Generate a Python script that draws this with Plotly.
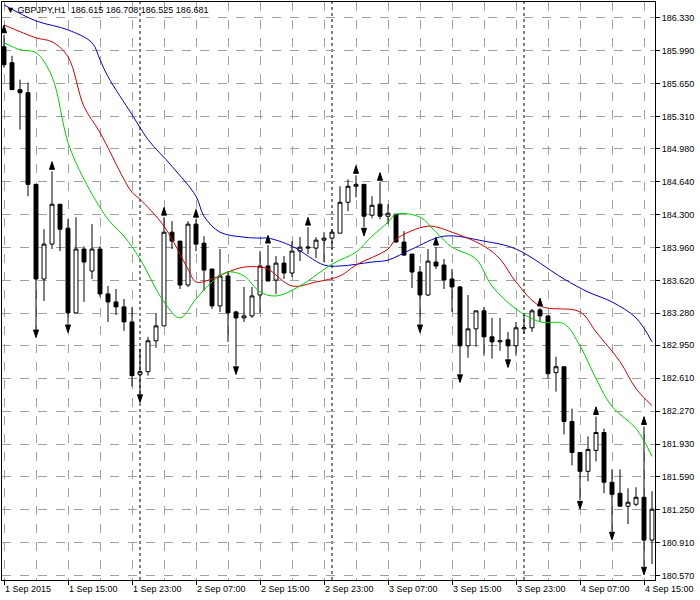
import plotly.graph_objects as go

# GBPJPY H1 bars (1 Sep 07:00 .. 4 Sep 16:00)
opens = [186.031, 185.867, 185.589, 185.558, 184.611, 183.634, 183.994, 184.406, 184.159, 183.284,
         183.943, 183.716, 183.943, 183.480, 183.397, 183.346, 183.191, 182.646, 182.677, 182.996,
         183.150, 184.117, 184.025, 183.572, 184.200, 184.004, 183.737, 183.356, 183.665, 183.294,
         183.232, 183.253, 183.469, 183.768, 183.623, 183.798, 183.696, 183.922, 183.953, 183.953,
         184.035, 184.056, 184.107, 184.426, 184.591, 184.611, 184.292, 184.406, 184.282, 184.303,
         184.015, 183.891, 183.706, 183.469, 183.809, 183.778, 183.634, 183.552, 182.944, 183.119,
         183.305, 183.037, 182.985, 183.006, 182.944, 183.119, 183.130, 183.315, 183.253, 182.667,
         182.728, 182.162, 181.843, 181.648, 181.864, 182.049, 181.535, 181.422, 181.288, 181.308,
         181.380, 180.938]
highs = [186.155, 185.939, 185.692, 185.661, 184.611, 184.148, 184.745, 184.406, 184.251, 184.272,
         183.973, 184.200, 183.973, 183.562, 183.531, 183.428, 183.346, 182.914, 183.037, 183.284,
         184.272, 184.231, 184.025, 184.231, 184.251, 184.076, 183.737, 183.943, 183.716, 183.305,
         183.552, 183.552, 183.922, 183.984, 183.871, 183.871, 184.025, 184.066, 184.169, 184.066,
         184.117, 184.148, 184.591, 184.663, 184.704, 184.611, 184.488, 184.632, 184.406, 184.303,
         184.128, 183.891, 183.768, 183.943, 183.963, 183.840, 183.737, 183.562, 183.469, 183.305,
         183.346, 183.232, 183.232, 183.088, 183.191, 183.284, 183.325, 183.335, 183.253, 182.832,
         182.728, 182.296, 181.843, 182.008, 182.214, 182.090, 181.668, 181.668, 181.473, 181.483,
         182.111, 181.442]
lows = [185.815, 185.589, 185.177, 184.488, 183.119, 183.407, 183.943, 183.922, 183.171, 183.284,
        183.397, 183.634, 183.449, 183.191, 183.263, 183.099, 182.522, 182.450, 182.636, 182.924,
        183.150, 183.943, 183.531, 183.552, 183.922, 183.510, 183.325, 183.294, 182.985, 182.739,
        183.191, 183.232, 183.284, 183.613, 183.480, 183.634, 183.654, 183.819, 183.891, 183.850,
        183.809, 183.943, 184.107, 184.334, 184.478, 184.169, 184.262, 184.251, 184.200, 184.015,
        183.871, 183.541, 183.171, 183.459, 183.737, 183.531, 183.294, 182.656, 182.821, 182.934,
        182.842, 182.811, 182.893, 182.811, 182.842, 183.068, 183.088, 183.191, 182.605, 182.471,
        182.029, 181.710, 181.349, 181.545, 181.751, 181.422, 181.031, 181.288, 181.103, 181.288,
        180.670, 180.691]
closes = [185.846, 185.589, 185.558, 184.611, 183.634, 183.994, 184.406, 184.148, 183.284, 183.943,
          183.809, 183.943, 183.480, 183.397, 183.346, 183.191, 182.636, 182.677, 182.996, 183.150,
          184.117, 184.025, 183.572, 184.200, 183.994, 183.726, 183.356, 183.665, 183.284, 183.232,
          183.253, 183.459, 183.768, 183.613, 183.798, 183.696, 183.922, 183.963, 183.963, 184.035,
          184.056, 184.117, 184.426, 184.591, 184.611, 184.282, 184.395, 184.282, 184.313, 184.015,
          183.881, 183.706, 183.469, 183.819, 183.768, 183.623, 183.552, 182.944, 183.119, 183.305,
          183.037, 182.985, 182.996, 182.944, 183.130, 183.130, 183.305, 183.253, 182.656, 182.728,
          182.162, 181.843, 181.648, 181.874, 182.049, 181.535, 181.411, 181.288, 181.329, 181.380,
          180.938, 181.257]

# fractal bars
up_fractals = [0, 6, 20, 24, 33, 38, 44, 47, 54, 67, 74, 80]
down_fractals = [4, 8, 17, 29, 45, 52, 57, 63, 72, 76, 80]

# moving averages read at selected bars
blue_idx = [0, 4, 8, 11, 12, 13, 16, 18, 21, 24, 25, 27, 30, 32, 33, 36, 40, 42, 46, 48, 51, 55,
            60, 64, 70, 73, 76, 79, 81]
blue_val = [186.464, 186.299, 186.206, 186.073, 185.898, 185.723, 185.332, 185.074, 184.797,
            184.488, 184.282, 184.117, 184.066, 184.056, 184.056, 183.973, 183.778, 183.768,
            183.809, 183.829, 183.943, 184.076, 184.025, 183.943, 183.634, 183.500, 183.397,
            183.232, 182.985]
red_idx = [0, 4, 6, 8, 10, 12, 15, 16, 17, 20, 23, 24, 26, 28, 30, 32, 33, 36, 39, 42, 44, 48,
           49, 53, 56, 60, 62, 64, 67, 72, 74, 77, 79, 81]
red_val = [186.258, 186.124, 186.083, 185.928, 185.414, 185.146, 184.663, 184.529, 184.457,
           184.179, 183.737, 183.603, 183.634, 183.706, 183.757, 183.757, 183.737, 183.562,
           183.603, 183.665, 183.778, 183.943, 184.045, 184.179, 184.117, 183.973, 183.840,
           183.603, 183.356, 183.294, 183.088, 182.780, 182.502, 182.327]
green_idx = [0, 2, 4, 6, 8, 10, 13, 15, 17, 20, 22, 24, 26, 28, 30, 32, 34, 37, 41, 44, 46, 48,
             49, 52, 54, 56, 59, 61, 64, 67, 70, 72, 74, 76, 79, 81]
green_val = [186.073, 186.001, 185.970, 185.723, 185.044, 184.663, 184.251, 184.076, 183.840,
             183.397, 183.232, 183.428, 183.603, 183.706, 183.665, 183.500, 183.459, 183.562,
             183.788, 183.912, 184.076, 184.220, 184.303, 184.272, 184.117, 183.963, 183.840,
             183.562, 183.325, 183.191, 183.171, 182.944, 182.605, 182.317, 182.090, 181.802]

price_ticks = [186.330, 185.990, 185.650, 185.310, 184.980, 184.640, 184.300, 183.960, 183.620,
               183.280, 182.950, 182.610, 182.270, 181.930, 181.590, 181.250, 180.910, 180.570]
time_tick_idx = [0, 8, 16, 24, 32, 40, 48, 56, 64, 72, 80]
time_labels = ["1 Sep 2015", "1 Sep 15:00", "1 Sep 23:00", "2 Sep 07:00", "2 Sep 15:00",
               "2 Sep 23:00", "3 Sep 07:00", "3 Sep 15:00", "3 Sep 23:00", "4 Sep 07:00",
               "4 Sep 15:00"]
day_breaks = [17, 41, 65]

idx = list(range(len(opens)))
fig = go.Figure()

fig.add_trace(go.Scatter(x=blue_idx, y=blue_val, mode='lines', line=dict(color='#0000c8', width=1, shape='spline')))
fig.add_trace(go.Scatter(x=red_idx, y=red_val, mode='lines', line=dict(color='#d00000', width=1, shape='spline')))
fig.add_trace(go.Scatter(x=green_idx, y=green_val, mode='lines', line=dict(color='#00d000', width=1, shape='spline')))

fig.add_trace(go.Candlestick(x=idx, open=opens, high=highs, low=lows, close=closes,
                             increasing=dict(fillcolor='white', line=dict(color='black', width=1)),
                             decreasing=dict(fillcolor='black', line=dict(color='black', width=1)),
                             whiskerwidth=0))

# fractal arrows (chevron heads)
fig.add_trace(go.Scatter(x=up_fractals, y=[highs[i] + 0.1 for i in up_fractals], mode='markers',
                         marker=dict(symbol='arrow', angle=0, size=8, color='black',
                                     line=dict(color='black', width=1))))
fig.add_trace(go.Scatter(x=down_fractals, y=[lows[i] - 0.09 for i in down_fractals], mode='markers',
                         marker=dict(symbol='arrow', angle=180, size=8, color='black',
                                     line=dict(color='black', width=1))))

for d in day_breaks:
    fig.add_shape(type='line', x0=d, x1=d, y0=0, y1=1, yref='paper',
                  line=dict(color='black', width=1, dash='dot'), layer='below')

fig.add_annotation(text="▼ GBPJPY,H1  186.615 186.708 186.525 186.681", xref='paper', yref='paper',
                   x=0.003, y=0.998, xanchor='left', yanchor='top', showarrow=False,
                   font=dict(family='Liberation Sans', size=9, color='black'))

fig.update_layout(
    width=700, height=600, showlegend=False,
    paper_bgcolor='white', plot_bgcolor='white',
    margin=dict(l=2, r=45, t=2, b=20, autoexpand=False),
    font=dict(family='Liberation Sans', size=9, color='black'),
    xaxis=dict(range=[-0.25, 81.375], rangeslider=dict(visible=False),
               tickvals=time_tick_idx, ticktext=time_labels, ticklabelposition='outside right',
               ticks='outside', ticklen=4, tickcolor='black', automargin=False,
               showgrid=True, gridcolor='#a0a0a0', griddash='dash', gridwidth=1,
               minor=dict(dtick=4, tick0=0, showgrid=True, gridcolor='#a0a0a0', griddash='dash'),
               showline=True, linecolor='black', mirror=True, zeroline=False),
    yaxis=dict(range=[180.526, 186.494], side='right', tickvals=price_ticks,
               ticktext=[f"{v:.3f}" for v in price_ticks], automargin=False,
               ticks='outside', ticklen=4, tickcolor='black',
               showgrid=True, gridcolor='#a0a0a0', griddash='dash', gridwidth=1,
               showline=True, linecolor='black', mirror=True, zeroline=False),
)

fig.write_html("out.html", config={'displayModeBar': False},
               post_script="document.body.style.margin='0';")
